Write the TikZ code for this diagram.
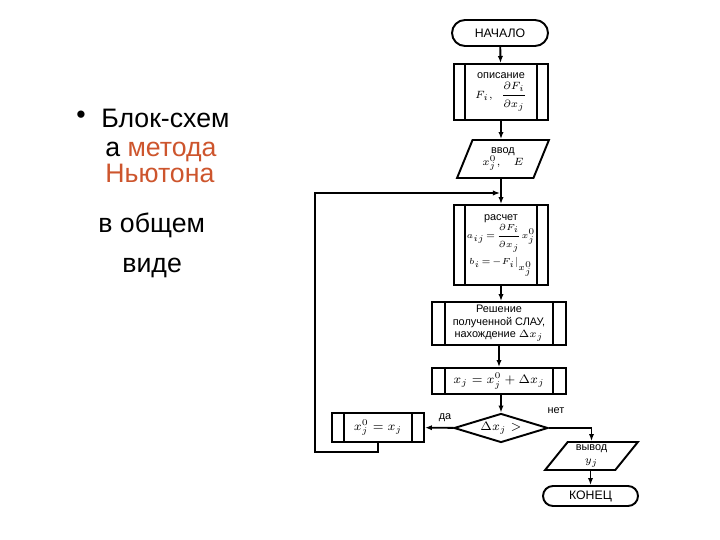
\documentclass[tikz,border=0pt]{standalone}
\usepackage{fontspec}
\setmainfont{Liberation Sans}
\usepackage{amsmath}
\usepackage{tikz}
\usetikzlibrary{arrows.meta,positioning,shapes.geometric}
\tikzset{>=latex}
\usepackage{xcolor}
\definecolor{myorange}{RGB}{205,85,45}
\tikzstyle{box}=[draw,line width=1.1pt,align=center,inner sep=1pt,font=\fontsize{6.2}{7}\selectfont]
\tikzstyle{term}=[box,rounded corners=0.26cm,font=\fontsize{7}{8}\selectfont]
\tikzstyle{io}=[box,trapezium,trapezium stretches=true]
\tikzset{proc/.style={box,rectangle,path picture={
  \draw[line width=1.1pt] ([xshift=#1]path picture bounding box.north west) -- ([xshift=#1]path picture bounding box.south west)
    ([xshift=-#1]path picture bounding box.north east) -- ([xshift=-#1]path picture bounding box.south east);}}}
\tikzstyle{decision}=[box,diamond,aspect=3.2,inner sep=0pt,font=\fontsize{7}{8}\selectfont]
\tikzstyle{flow}=[-{Latex[length=4pt,width=3pt]},line width=1.1pt]
\tikzstyle{big}=[anchor=base west,font=\fontsize{15.2}{18}\selectfont,inner sep=0pt]
\newcommand{\eqs}{\!=\!}

\begin{document}
\begin{tikzpicture}[x=0.02cm,y=-0.02cm]
  \useasboundingbox (0,0) rectangle (720,540);

  % text on the left
  \node[big,anchor=base] (dot) at (81,124) {•};
  \node[big] (l1) at (101,128) {Блок-схем};
  \node[big] (l2) at (105,157) {а \textcolor{myorange}{метода}};
  \node[big,myorange] (l3) at (105,183) {Ньютона};
  \node[big] (l4) at (98,233) {в общем};
  \node[big] (l5) at (122,273) {виде};

  % main column
  \node[term,minimum width=1.92cm,minimum height=0.52cm] (start) at (500,33) {НАЧАЛО};
  \node[proc=0.22cm,minimum width=1.88cm,minimum height=1.12cm] (desc) at (501,92)
    {описание\\[1pt] $F_i,\ \ \dfrac{\partial F_i}{\partial x_j}$};
  \node[io,trapezium left angle=67,trapezium right angle=113,minimum width=1.84cm,minimum height=0.76cm] (inp) at (503,159)
    {ввод\\ $x_j^0,\quad E$};
  \node[proc=0.22cm,minimum width=1.88cm,minimum height=1.6cm] (calc) at (501,245)
    {расчет\\ \fontsize{4.7}{5.6}\selectfont$a_{ij}\eqs\dfrac{\partial F_i}{\partial x_j}x_j^0$\\[2pt]
     \fontsize{4.7}{5.6}\selectfont$b_i\eqs-F_i\big|_{x_j^0}$};
  \node[proc=0.26cm,minimum width=2.68cm,minimum height=0.86cm] (slau) at (499,323.5)
    {Решение\\ полученной СЛАУ,\\ нахождение $\Delta x_j$};
  \node[proc=0.26cm,minimum width=2.68cm,minimum height=0.52cm,font=\fontsize{7.5}{9}\selectfont] (upd) at (499,381)
    {$x_j=x_j^0+\Delta x_j$};
  \node[decision,minimum width=1.88cm,minimum height=0.58cm] (cond) at (501,428) {$\Delta x_j >$};

  % branches
  \node[proc=0.24cm,minimum width=1.84cm,minimum height=0.58cm,font=\fontsize{7.5}{9}\selectfont] (reset) at (378,427.5)
    {$x_j^0=x_j$};
  \node[io,trapezium left angle=57,trapezium right angle=123,minimum width=1.86cm,minimum height=0.56cm] (out) at (591.5,456)
    {вывод\\ $y_j$};
  \node[term,minimum width=1.9cm,minimum height=0.4cm,rounded corners=0.2cm] (stop) at (590.5,496) {КОНЕЦ};

  \node[font=\fontsize{6.2}{7}\selectfont,inner sep=0pt] (yes) at (445,418) {да};
  \node[font=\fontsize{6.2}{7}\selectfont,inner sep=0pt] (no) at (556,411) {нет};

  \draw[flow] (start) -- (desc);
  \draw[flow] (desc) -- (desc |- inp.north);
  \draw[flow] (inp.south -| calc) -- (calc);
  \draw[flow] (calc) -- (calc |- slau.north);
  \draw[flow] (slau) -- (upd);
  \draw[flow] (upd.south -| cond) -- (cond);
  \draw[flow] (cond) -- (reset);
  \draw[flow] (cond) -| (out);
  \draw[flow] (out.south -| stop) -- (stop);

  % loop back
  \coordinate (join) at (500,193);
  \coordinate (back) at (315,452);
  \draw[flow] (reset.south) |- (back) |- (join);
\end{tikzpicture}
\end{document}
